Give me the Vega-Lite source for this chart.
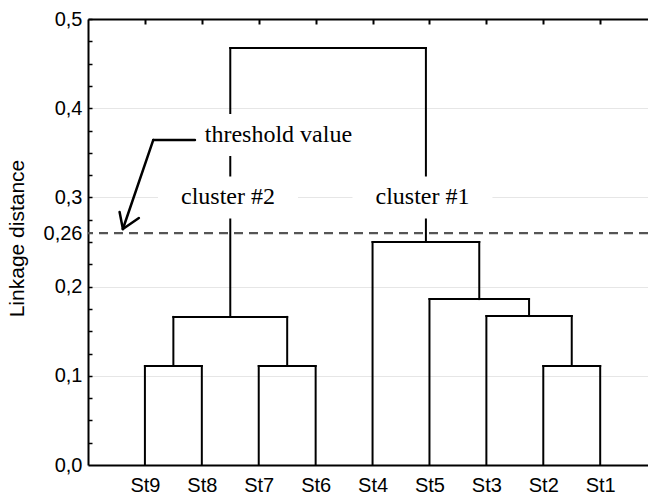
{
  "$schema": "https://vega.github.io/schema/vega-lite/v6.json",
  "width": 560,
  "height": 446,
  "autosize": {"type": "none"},
  "padding": {"left": 88, "top": 19, "right": 0, "bottom": 33},
  "background": "white",
  "config": {"view": {"stroke": null}},
  "datasets": {
    "links": [
      {"x1": 1, "y1": 0, "x2": 1, "y2": 0.111},
      {"x1": 2, "y1": 0, "x2": 2, "y2": 0.111},
      {"x1": 1, "y1": 0.111, "x2": 2, "y2": 0.111},
      {"x1": 3, "y1": 0, "x2": 3, "y2": 0.111},
      {"x1": 4, "y1": 0, "x2": 4, "y2": 0.111},
      {"x1": 3, "y1": 0.111, "x2": 4, "y2": 0.111},
      {"x1": 1.5, "y1": 0.111, "x2": 1.5, "y2": 0.166},
      {"x1": 3.5, "y1": 0.111, "x2": 3.5, "y2": 0.166},
      {"x1": 1.5, "y1": 0.166, "x2": 3.5, "y2": 0.166},
      {"x1": 8, "y1": 0, "x2": 8, "y2": 0.111},
      {"x1": 9, "y1": 0, "x2": 9, "y2": 0.111},
      {"x1": 8, "y1": 0.111, "x2": 9, "y2": 0.111},
      {"x1": 7, "y1": 0, "x2": 7, "y2": 0.167},
      {"x1": 8.5, "y1": 0.111, "x2": 8.5, "y2": 0.167},
      {"x1": 7, "y1": 0.167, "x2": 8.5, "y2": 0.167},
      {"x1": 6, "y1": 0, "x2": 6, "y2": 0.186},
      {"x1": 7.75, "y1": 0.167, "x2": 7.75, "y2": 0.186},
      {"x1": 6, "y1": 0.186, "x2": 7.75, "y2": 0.186},
      {"x1": 5, "y1": 0, "x2": 5, "y2": 0.25},
      {"x1": 6.875, "y1": 0.186, "x2": 6.875, "y2": 0.25},
      {"x1": 5, "y1": 0.25, "x2": 6.875, "y2": 0.25},
      {"x1": 2.5, "y1": 0.166, "x2": 2.5, "y2": 0.4675},
      {"x1": 5.9375, "y1": 0.25, "x2": 5.9375, "y2": 0.4675},
      {"x1": 2.5, "y1": 0.4675, "x2": 5.9375, "y2": 0.4675}
    ],
    "threshold": [
      {"value": 0.26}
    ],
    "labels": [
      {"text": "threshold value", "x": 3.346, "y": 0.370},
      {"text": "cluster #2", "x": 2.46, "y": 0.300},
      {"text": "cluster #1", "x": 5.877, "y": 0.300}
    ],
    "arrow": [
      {"x1": 1.879, "y1": 0.3643, "x2": 1.146, "y2": 0.3643},
      {"x1": 1.146, "y1": 0.3643, "x2": 0.613, "y2": 0.2646},
      {"x1": 0.613, "y1": 0.2646, "x2": 0.555, "y2": 0.2836},
      {"x1": 0.613, "y1": 0.2646, "x2": 0.894, "y2": 0.2769}
    ]
  },
  "resolve": {"axis": {"x": "independent", "y": "independent"}},
  "layer": [
    {
      "data": {"name": "links"},
      "mark": {"type": "rule", "color": "black", "strokeWidth": 2, "strokeCap": "square"},
      "encoding": {
        "x": {
          "field": "x1", "type": "quantitative",
          "scale": {"domain": [0, 9.84], "nice": false, "zero": false},
          "axis": {
            "orient": "bottom",
            "values": [1, 2, 3, 4, 5, 6, 7, 8, 9],
            "labelExpr": "['','St9','St8','St7','St6','St4','St5','St3','St2','St1'][datum.value]",
            "ticks": false,
            "grid": false,
            "domainColor": "black",
            "domainWidth": 2,
            "labelFont": "Liberation Sans",
            "labelFontSize": 20,
            "labelColor": "black",
            "labelPadding": 10,
            "labelFlush": false,
            "labelOverlap": false,
            "title": null
          }
        },
        "x2": {"field": "x2"},
        "y": {
          "field": "y1", "type": "quantitative",
          "scale": {"domain": [0, 0.5], "nice": false, "zero": false},
          "axis": {
            "orient": "left",
            "values": [0, 0.025, 0.05, 0.075, 0.1, 0.125, 0.15, 0.175, 0.2, 0.225, 0.25, 0.26, 0.275, 0.3, 0.325, 0.35, 0.375, 0.4, 0.425, 0.45, 0.475, 0.5],
            "labelExpr": "datum.value == 0.26 ? '0,26' : (indexof([0, 0.1, 0.2, 0.3, 0.4, 0.5], datum.value) >= 0 ? replace(format(datum.value, '.1f'), '.', ',') : '')",
            "labelOverlap": false,
            "labelFlush": false,
            "labelFont": "Liberation Sans",
            "labelFontSize": 20,
            "labelColor": "black",
            "labelPadding": 10,
            "tickSize": -4,
            "tickColor": {"condition": {"test": "datum.value == 0.26 || datum.value == 0", "value": "transparent"}, "value": "black"},
            "tickWidth": 1.5,
            "domainColor": "black",
            "domainWidth": 2,
            "grid": true,
            "gridColor": "#e6e6e6",
            "gridWidth": 1,
            "gridOpacity": {"condition": {"test": "indexof([0.1, 0.2, 0.3, 0.4], datum.value) >= 0", "value": 1}, "value": 0},
            "title": "Linkage distance",
            "titleFont": "Liberation Sans",
            "titleFontSize": 21,
            "titleFontWeight": "normal",
            "titleColor": "black",
            "titleAngle": -90,
            "titleAlign": "center",
            "titleBaseline": "middle",
            "titleX": -71,
            "titleY": 219
          }
        },
        "y2": {"field": "y2"}
      }
    },
    {
      "data": {"name": "threshold"},
      "mark": {"type": "rule", "color": "#555555", "strokeWidth": 2.3, "strokeDash": [9, 6]},
      "encoding": {
        "y": {"field": "value", "type": "quantitative", "axis": null}
      }
    },
    {
      "data": {"name": "labels"},
      "mark": {"type": "point", "shape": "M-1,-0.3L1,-0.3L1,0.3L-1,0.3Z", "filled": true, "fill": "white", "strokeWidth": 0, "size": 19600, "opacity": 1},
      "encoding": {
        "x": {
          "field": "x", "type": "quantitative",
          "axis": {
            "orient": "top",
            "values": [1, 2, 3, 4, 5, 6, 7, 8, 9],
            "labels": false,
            "ticks": true,
            "tickSize": -5,
            "tickColor": "black",
            "tickWidth": 2,
            "grid": false,
            "domainColor": "black",
            "domainWidth": 2,
            "title": null
          }
        },
        "y": {"field": "y", "type": "quantitative", "axis": null}
      }
    },
    {
      "data": {"name": "labels"},
      "mark": {"type": "text", "font": "Liberation Serif", "fontSize": 24, "color": "black", "align": "center", "baseline": "middle"},
      "encoding": {
        "x": {"field": "x", "type": "quantitative", "axis": null},
        "y": {"field": "y", "type": "quantitative", "axis": null},
        "text": {"field": "text"}
      }
    },
    {
      "data": {"name": "arrow"},
      "mark": {"type": "rule", "color": "black", "strokeWidth": 2.5, "strokeCap": "round"},
      "encoding": {
        "x": {"field": "x1", "type": "quantitative", "axis": null},
        "x2": {"field": "x2"},
        "y": {"field": "y1", "type": "quantitative", "axis": null},
        "y2": {"field": "y2"}
      }
    }
  ]
}
